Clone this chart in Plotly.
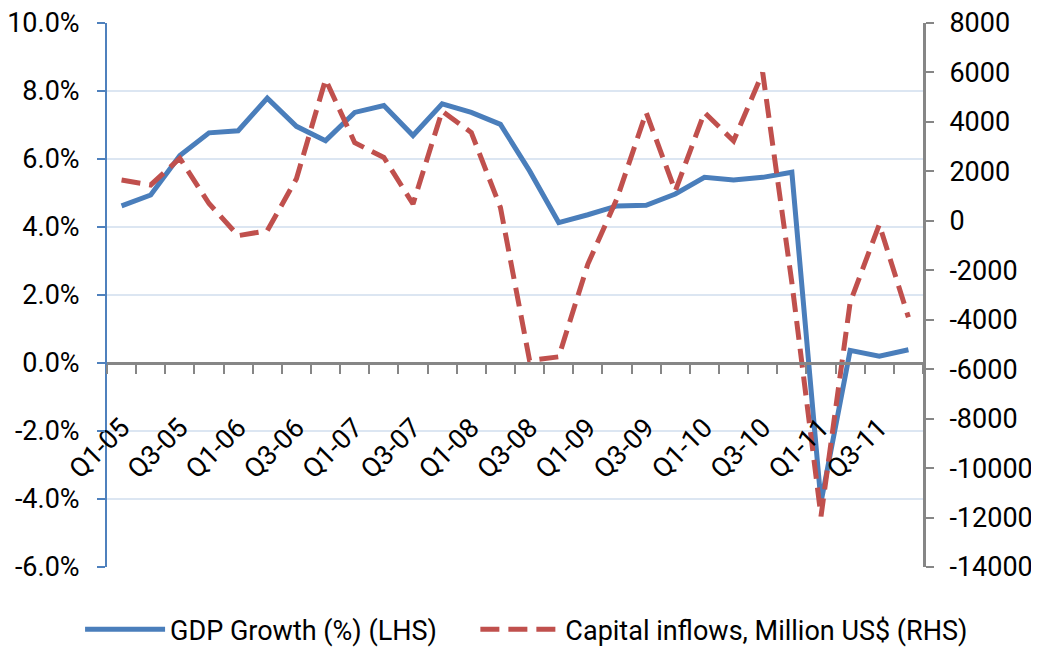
import plotly.graph_objects as go

# quarterly series, Q1-05 .. Q4-11
quarters = [f"Q{q}-{y:02d}" for y in range(5, 12) for q in range(1, 5)]
tick_text = [lab if lab[1] in "13" else "" for lab in quarters]

gdp_growth = [4.62, 4.94, 6.10, 6.77, 6.83, 7.79, 6.96, 6.54, 7.37, 7.57,
              6.69, 7.62, 7.37, 7.02, 5.65, 4.13, 4.36, 4.62, 4.64, 4.97,
              5.46, 5.38, 5.46, 5.61, -4.10, 0.37, 0.20, 0.39]
capital_inflows = [1650, 1450, 2530, 700, -600, -400, 1700, 5720, 3160, 2560,
                   680, 4440, 3570, 540, -5650, -5500, -1750, 900, 4380, 1210,
                   4380, 3230, 5990, -2500, -11950, -3300, -150, -3900]

left_ticks = [-6, -4, -2, 0, 2, 4, 6, 8, 10]
right_ticks = [-14000, -12000, -10000, -8000, -6000, -4000, -2000, 0, 2000, 4000, 6000, 8000]

FONT = "Roboto, Liberation Sans, sans-serif"
BLUE = "#4A7EBB"
RED = "#C0504D"
GREY = "#868686"
NBSP = "\u00a0"

fig = go.Figure()
fig.add_trace(go.Scatter(x=quarters, y=gdp_growth, name="GDP Growth (%) (LHS)" + NBSP * 5,
                         mode="lines", line=dict(color=BLUE, width=5)))
fig.add_trace(go.Scatter(x=quarters, y=capital_inflows, name="Capital inflows, Million US$ (RHS)",
                         mode="lines", yaxis="y2",
                         line=dict(color=RED, width=5, dash="19px,9px")))

# page body has an 8px margin, so the figure is 8px smaller than the window
fig.update_layout(
    width=1031, height=642,
    margin=dict(l=99, r=116, t=15, b=83, autoexpand=False),
    paper_bgcolor="white", plot_bgcolor="white",
    font=dict(family=FONT, size=27, color="black"),
    showlegend=True,
    legend=dict(orientation="h", x=-0.033, xanchor="left", y=-0.07, yanchor="top",
                itemwidth=80, font=dict(size=27), traceorder="normal"),
    xaxis=dict(type="category", categoryorder="array", categoryarray=quarters,
               tickmode="array", tickvals=quarters, ticktext=tick_text,
               tickson="boundaries", ticks="outside", ticklen=9, tickwidth=2,
               tickcolor=GREY, showline=True, linecolor=GREY, linewidth=3,
               showgrid=False, anchor="free", position=0.375, tickangle=-45,
               ticklabelstandoff=36, range=[-0.5, 27.5], automargin=False),
    yaxis=dict(range=[-6, 10], tickmode="array", tickvals=left_ticks,
               ticktext=[f"{v:.1f}%" for v in left_ticks],
               showline=True, linecolor="#4F81BD", linewidth=2,
               ticks="outside", ticklen=8, tickwidth=2, tickcolor="#4F81BD",
               showgrid=True, gridcolor="#DCE6F2", gridwidth=2, zeroline=False,
               ticklabelstandoff=12, ticklabeloverflow="allow", automargin=False),
    yaxis2=dict(range=[-14000, 8000], tickmode="array", tickvals=right_ticks,
                ticktext=[str(v) for v in right_ticks],
                overlaying="y", side="right",
                showline=True, linecolor=GREY, linewidth=3,
                ticks="outside", ticklen=8, tickwidth=2, tickcolor=GREY,
                showgrid=False, zeroline=False, ticklabelstandoff=10,
                ticklabeloverflow="allow", automargin=False),
)

fig.write_html("out.html")
